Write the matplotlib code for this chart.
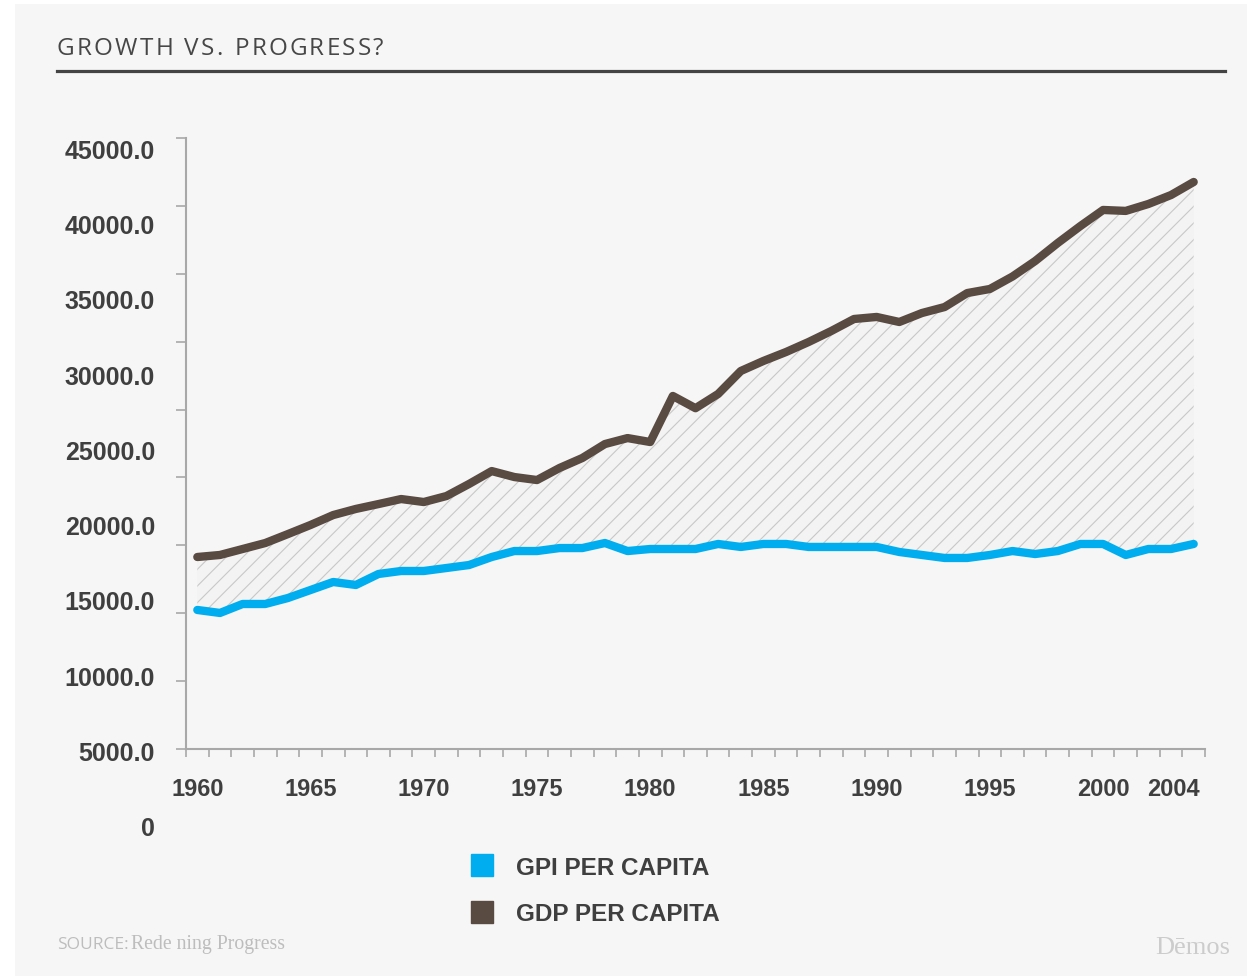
import matplotlib.pyplot as plt
from matplotlib.lines import Line2D
from matplotlib.patches import Rectangle
from matplotlib.transforms import ScaledTranslation

# Data (per capita, 2000 dollars)
years = list(range(1960, 2005))
gdp = [14140, 14290, 14730, 15170, 15830, 16500, 17230, 17680, 18040, 18410,
       18190, 18630, 19520, 20470, 20030, 19810, 20700, 21430, 22460, 22900,
       22610, 26000, 25100, 26150, 27840, 28580, 29240, 29980, 30790, 31670,
       31820, 31450, 32110, 32550, 33580, 33880, 34800, 35940, 37270, 38520,
       39700, 39630, 40140, 40800, 41760]
gpi = [10240, 10020, 10680, 10680, 11120, 11710, 12300, 12080, 12890, 13110,
       13110, 13330, 13550, 14140, 14580, 14580, 14800, 14800, 15170, 14580,
       14730, 14730, 14730, 15100, 14880, 15100, 15100, 14880, 14880, 14880,
       14880, 14510, 14290, 14070, 14070, 14290, 14580, 14360, 14580, 15100,
       15100, 14290, 14730, 14730, 15100]
year_labels = [1960, 1965, 1970, 1975, 1980, 1985, 1990, 1995, 2000, 2004]
y_labels = ["45000.0", "40000.0", "35000.0", "30000.0", "25000.0",
            "20000.0", "15000.0", "10000.0", "5000.0", "0"]

BLUE = "#00aeef"
BROWN = "#594a42"
TEXT = "#3f3f3f"
AXIS = "#a8a8a8"

plt.rcParams["hatch.linewidth"] = 0.8

fig = plt.figure(figsize=(12.47, 9.79), dpi=100, facecolor="white")
fig.patches.append(Rectangle((15 / 1247, 2 / 979), 1232 / 1247, 972 / 979,
                             transform=fig.transFigure, facecolor="#f6f6f6",
                             edgecolor="none", zorder=-10))

ax = fig.add_axes([186 / 1247, 229 / 979, 1019 / 1247, 611 / 979])
ax.set_facecolor("none")

idx = list(range(len(years)))
ax.fill_between(idx, gpi, gdp, facecolor="#f3f3f3", edgecolor="#c8c8c8",
                hatch="//", linewidth=0, zorder=1)
ax.plot(idx, gdp, color=BROWN, lw=6, solid_capstyle="round",
        solid_joinstyle="round", zorder=3)
ax.plot(idx, gpi, color=BLUE, lw=6, solid_capstyle="round",
        solid_joinstyle="round", zorder=3)

ax.set_xlim(-0.5, len(years) - 0.5)
ax.set_ylim(0, 45000)

for side in ["top", "right"]:
    ax.spines[side].set_visible(False)
for side in ["left", "bottom"]:
    ax.spines[side].set_color(AXIS)
    ax.spines[side].set_linewidth(1.5)

# y ticks without labels; labels drawn separately (they sit off the ticks)
ax.set_yticks(range(0, 45001, 5000))
ax.set_yticklabels([])
ax.tick_params(axis="y", length=7, width=1.2, color=AXIS)
for k, lab in enumerate(y_labels):
    ax.text(-0.0304, 0.979 - k * 0.1232, lab, transform=ax.transAxes,
            ha="right", va="center", fontsize=18, fontweight="bold",
            color=TEXT, family="Liberation Sans")

# x: minor ticks on year boundaries, labels on selected years
ax.set_xticks([i - 0.5 for i in range(len(years) + 1)], minor=True)
ax.set_xticks([years.index(y) for y in year_labels])
ax.set_xticklabels([str(y) for y in year_labels])
ax.tick_params(axis="x", which="minor", length=6, width=1.2, color=AXIS)
ax.tick_params(axis="x", which="major", length=0, pad=20, labelsize=17,
               labelcolor=TEXT)
for lab in ax.get_xticklabels():
    lab.set_fontweight("bold")
    lab.set_family("Liberation Sans")
last = ax.get_xticklabels()[-1]
last.set_transform(last.get_transform() +
                   ScaledTranslation(-0.2, 0, fig.dpi_scale_trans))

# title with a little letter spacing, and the rule under it
renderer = fig.canvas.get_renderer()
x = 57
for ch in "GROWTH VS. PROGRESS?":
    t = fig.text(x / 1247, 1 - 49 / 979, ch, ha="left", va="center",
                 fontsize=17.5, color="#474747", family="Open Sans")
    w = t.get_window_extent(renderer).width if ch != " " else 7
    x += w + 2.2
fig.add_artist(Line2D([57 / 1247, 1225 / 1247], [1 - 71.5 / 979] * 2,
                      transform=fig.transFigure, color="#444444", lw=2.3))

# legend
handles = [Line2D([], [], marker="s", ms=16, color=BLUE, ls="none"),
           Line2D([], [], marker="s", ms=16, color=BROWN, ls="none")]
leg = fig.legend(handles, ["GPI PER CAPITA", "GDP PER CAPITA"],
                 loc="upper left", bbox_to_anchor=(470 / 1247, 1 - 857 / 979),
                 frameon=False, handlelength=1.0, handletextpad=0.9,
                 labelspacing=0.95, borderpad=0, borderaxespad=0,
                 prop={"family": "Liberation Sans", "weight": "bold",
                       "size": 17.5})
for t in leg.get_texts():
    t.set_color(TEXT)

# source and logo
fig.text(57 / 1247, 1 - 945 / 979, "SOURCE:", ha="left", va="center",
         fontsize=12.5, color="#bdbdbd", family="Open Sans")
fig.text(131 / 1247, 1 - 945 / 979, "Rede ning Progress", ha="left",
         va="center", fontsize=14.2, color="#bdbdbd", family="Liberation Serif")
fig.text(1230 / 1247, 1 - 948 / 979, "Dēmos", ha="right", va="center",
         fontsize=19, color="#cccccc", family="Liberation Serif")

fig.savefig("out.png", dpi=100, facecolor=fig.get_facecolor())
